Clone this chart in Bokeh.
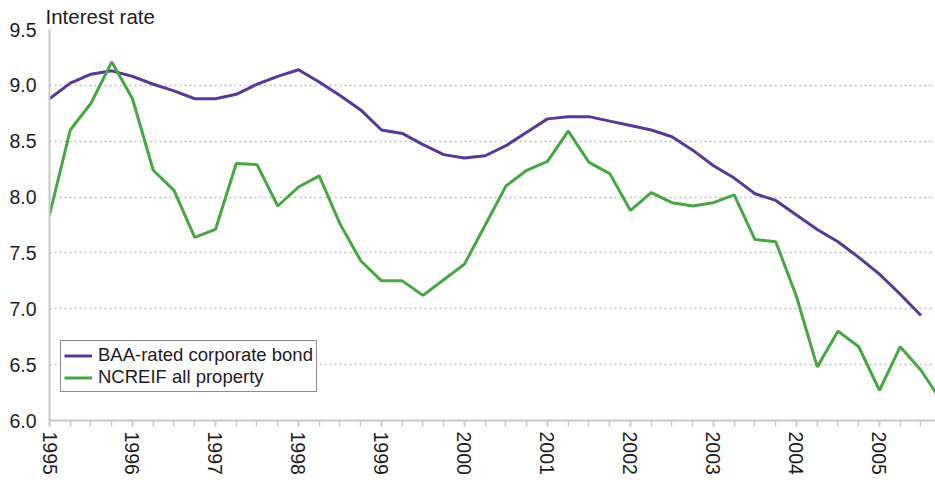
from bokeh.plotting import figure
from bokeh.models import FixedTicker, PrintfTickFormatter, Legend, LegendItem, Title, Range1d
from bokeh.embed import file_html
from bokeh.resources import INLINE

# Quarterly observations (decimal years)
quarters = [1995.0, 1995.25, 1995.5, 1995.75, 1996.0, 1996.25, 1996.5, 1996.75,
            1997.0, 1997.25, 1997.5, 1997.75, 1998.0, 1998.25, 1998.5, 1998.75,
            1999.0, 1999.25, 1999.5, 1999.75, 2000.0, 2000.25, 2000.5, 2000.75,
            2001.0, 2001.25, 2001.5, 2001.75, 2002.0, 2002.25, 2002.5, 2002.75,
            2003.0, 2003.25, 2003.5, 2003.75, 2004.0, 2004.25, 2004.5, 2004.75,
            2005.0, 2005.25, 2005.5, 2005.75]

baa_bond = [8.88, 9.02, 9.10, 9.13, 9.08, 9.01, 8.95, 8.88,
            8.88, 8.92, 9.01, 9.08, 9.14, 9.03, 8.91, 8.78,
            8.60, 8.57, 8.47, 8.38, 8.35, 8.37, 8.46, 8.58,
            8.70, 8.72, 8.72, 8.68, 8.64, 8.60, 8.54, 8.42,
            8.28, 8.17, 8.03, 7.97, 7.84, 7.71, 7.60, 7.46,
            7.31, 7.13, 6.94]

ncreif = [7.84, 8.60, 8.84, 9.21, 8.88, 8.24, 8.06, 7.64,
          7.71, 8.30, 8.29, 7.92, 8.09, 8.19, 7.76, 7.43,
          7.25, 7.25, 7.12, 7.26, 7.40, 7.75, 8.10, 8.24,
          8.32, 8.59, 8.31, 8.21, 7.88, 8.04, 7.95, 7.92,
          7.95, 8.02, 7.62, 7.60, 7.11, 6.48, 6.80, 6.66,
          6.27, 6.66, 6.45, 6.17]

year_ticks = [1995, 1996, 1997, 1998, 1999, 2000, 2001, 2002, 2003, 2004, 2005]
quarter_ticks = quarters
y_ticks = [6.0, 6.5, 7.0, 7.5, 8.0, 8.5, 9.0, 9.5]

series_names = ["BAA-rated corporate bond", "NCREIF all property"]
colors = ["#583a96", "#49a546"]

FONT = "Liberation Sans"
TXT = "#1e1b1c"

p = figure(width=935, height=482, output_backend="svg", toolbar_location=None,
           x_range=Range1d(1995, 2005.675), y_range=Range1d(6.0, 9.5),
           min_border_left=49, min_border_right=0, min_border_top=29, min_border_bottom=62)
p.outline_line_color = None
p.background_fill_color = "white"
p.border_fill_color = "white"

r1 = p.line(quarters[:len(baa_bond)], baa_bond, line_color=colors[0], line_width=3)
r2 = p.line(quarters, ncreif, line_color=colors[1], line_width=3)

xa = p.xaxis[0]
ya = p.yaxis[0]

xa.ticker = FixedTicker(ticks=year_ticks, minor_ticks=quarter_ticks)
xa.major_label_orientation = "vertical"
xa.major_tick_out = 6
xa.major_tick_in = 0
xa.minor_tick_out = 6
xa.minor_tick_in = 0
xa.major_tick_line_color = "#c8c8c8"
xa.minor_tick_line_color = "#c8c8c8"
xa.major_tick_line_width = 1.5
xa.minor_tick_line_width = 1.5
xa.axis_line_color = "#c8c8c8"
xa.axis_line_width = 2
xa.major_label_standoff = 5
xa.major_label_text_font = FONT
xa.major_label_text_font_size = "19.5px"
xa.major_label_text_color = TXT

ya.ticker = FixedTicker(ticks=y_ticks)
ya.formatter = PrintfTickFormatter(format="%.1f")
ya.major_tick_out = 0
ya.major_tick_in = 0
ya.minor_tick_line_color = None
ya.axis_line_color = "#c8c8c8"
ya.axis_line_width = 2
ya.major_label_standoff = 13
ya.major_label_text_font = FONT
ya.major_label_text_font_size = "19.5px"
ya.major_label_text_color = TXT

p.xgrid.grid_line_color = None
p.ygrid.ticker = FixedTicker(ticks=y_ticks[1:])
p.ygrid.grid_line_color = "#bdbdbd"
p.ygrid.grid_line_dash = "2 3"
p.ygrid.grid_line_width = 1.5

title = Title(text="Interest rate", align="left", offset=-4, standoff=4,
              text_font=FONT, text_font_size="20.5px", text_color=TXT,
              text_font_style="normal")
p.add_layout(title, "above")

legend = Legend(items=[LegendItem(label=series_names[0], renderers=[r1]),
                       LegendItem(label=series_names[1], renderers=[r2])],
                location=(11, 28), padding=3, spacing=0, margin=0,
                label_height=21, glyph_height=21, glyph_width=28, label_standoff=6,
                label_text_font=FONT, label_text_font_size="18.5px", label_text_color=TXT,
                border_line_color=TXT, border_line_width=1.2,
                background_fill_alpha=1.0)
p.add_layout(legend)

open("out.html", "w").write(file_html(p, INLINE))
